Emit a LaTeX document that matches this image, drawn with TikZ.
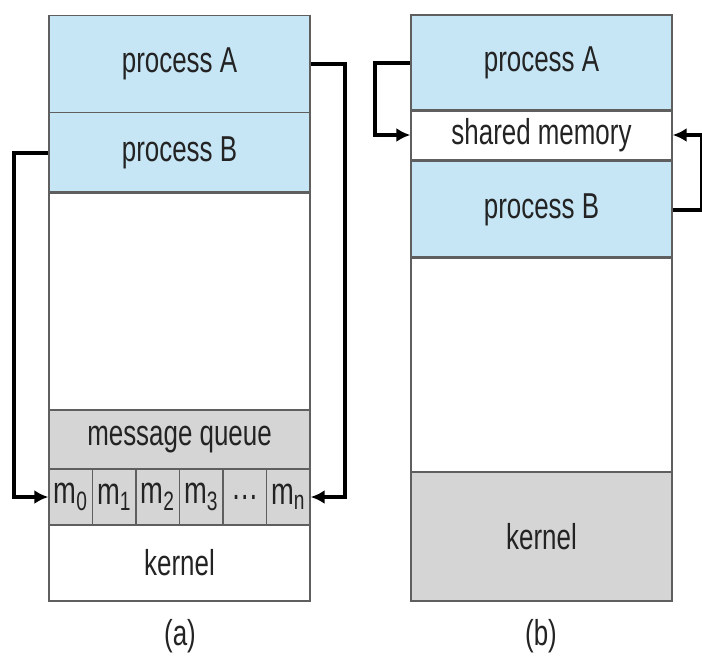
\documentclass[tikz,border=0pt]{standalone}
\usepackage{fontspec}
\setmainfont{Liberation Sans}[FakeStretch=0.72]
\usetikzlibrary{arrows.meta}
\definecolor{procblue}{RGB}{198,230,246}
\definecolor{kerngray}{RGB}{213,213,213}
\definecolor{rim}{RGB}{95,95,95}
\definecolor{ink}{RGB}{35,35,35}

\begin{document}
\begin{tikzpicture}[x=0.5pt,y=-0.5pt,
  seg/.style={draw=rim,line width=0.7pt,minimum width=130.5pt,inner sep=0pt,text=ink,font=\fontsize{18}{20}\selectfont},
  proc/.style={seg,fill=procblue},
  kern/.style={seg,fill=kerngray},
  cell/.style={seg,fill=kerngray,minimum width=21.75pt,minimum height=28pt,font=\fontsize{19}{20}\selectfont},
  link/.style={line width=2pt,-{Latex[length=7pt,width=7pt]}}]
\useasboundingbox (0,0) rectangle (702,660);

% (a) message passing
\node (pA) at (179.5,64) [proc,minimum height=48.5pt]{process A};
\node (pB) at (179.5,153) [proc,minimum height=40.5pt]{process B};
\node (freeA) at (179.5,301) [seg,minimum height=109pt]{};
\node (mq) at (179.5,439.5) [kern,minimum height=29.5pt]{message queue};
\foreach \t/\n [count=\i from 0] in {m\textsubscript{0}/m0,m\textsubscript{1}/m1,m\textsubscript{2}/m2,m\textsubscript{3}/m3,\dots/dots,m\textsubscript{n}/mn}
  \node (\n) at ({49+43.5*(\i+0.5)},497) [cell]{\t};
\node (kA) at (179.5,563) [seg,minimum height=38pt]{kernel};
\node (capA) at (180,636) [text=ink,font=\fontsize{18}{20}\selectfont]{(a)};

\draw[link] (pB.west) -- ++(-34,0) |- (m0.west);
\draw[link] (pA.east) -- ++(34,0) |- (mn.east);

% (b) shared memory
\node (qA) at (541.5,63) [proc,minimum height=48pt]{process A};
\node (shm) at (541.5,135) [seg,minimum height=25pt]{shared memory};
\node (qB) at (541.5,210) [proc,minimum height=48.5pt]{process B};
\node (freeB) at (541.5,364.5) [seg,minimum height=107.5pt]{};
\node (kB) at (541.5,536.5) [kern,minimum height=64.5pt]{kernel};
\node (capB) at (541,636) [text=ink,font=\fontsize{18}{20}\selectfont]{(b)};

\draw[link] (qA.west) -- ++(-35,0) |- (shm.west);
\draw[link] (qB.east) -- ++(29,0) |- (shm.east);

\end{tikzpicture}
\end{document}
